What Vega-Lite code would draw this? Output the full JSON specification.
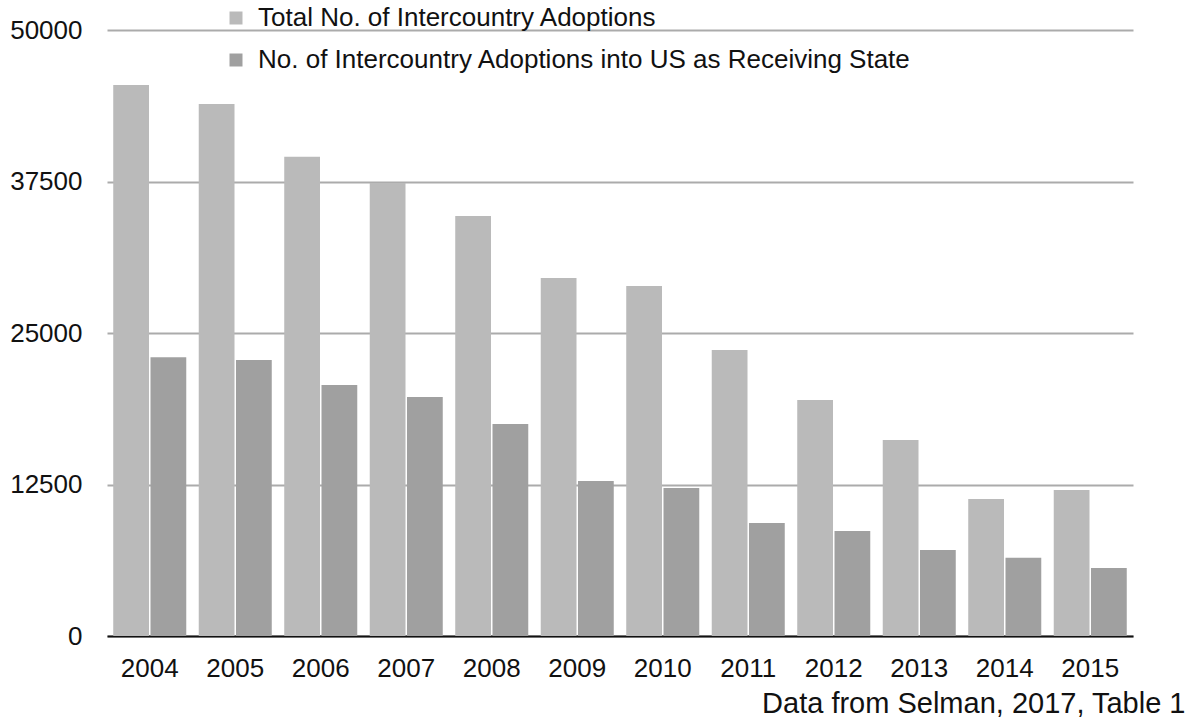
{
  "$schema": "https://vega.github.io/schema/vega-lite/v6.json",
  "width": 1026,
  "height": 606,
  "autosize": {"type": "none"},
  "padding": {"left": 107, "top": 30, "right": 63, "bottom": 88},
  "background": "white",
  "config": {
    "font": "Liberation Sans",
    "view": {"stroke": null}
  },
  "data": {
    "values": [
      {"year": "2004", "series": "Total No. of Intercountry Adoptions", "value": 45460},
      {"year": "2004", "series": "No. of Intercountry Adoptions into US as Receiving State", "value": 23000},
      {"year": "2005", "series": "Total No. of Intercountry Adoptions", "value": 43890},
      {"year": "2005", "series": "No. of Intercountry Adoptions into US as Receiving State", "value": 22770},
      {"year": "2006", "series": "Total No. of Intercountry Adoptions", "value": 39550},
      {"year": "2006", "series": "No. of Intercountry Adoptions into US as Receiving State", "value": 20710},
      {"year": "2007", "series": "Total No. of Intercountry Adoptions", "value": 37380},
      {"year": "2007", "series": "No. of Intercountry Adoptions into US as Receiving State", "value": 19720},
      {"year": "2008", "series": "Total No. of Intercountry Adoptions", "value": 34650},
      {"year": "2008", "series": "No. of Intercountry Adoptions into US as Receiving State", "value": 17490},
      {"year": "2009", "series": "Total No. of Intercountry Adoptions", "value": 29540},
      {"year": "2009", "series": "No. of Intercountry Adoptions into US as Receiving State", "value": 12790},
      {"year": "2010", "series": "Total No. of Intercountry Adoptions", "value": 28880},
      {"year": "2010", "series": "No. of Intercountry Adoptions into US as Receiving State", "value": 12210},
      {"year": "2011", "series": "Total No. of Intercountry Adoptions", "value": 23600},
      {"year": "2011", "series": "No. of Intercountry Adoptions into US as Receiving State", "value": 9320},
      {"year": "2012", "series": "Total No. of Intercountry Adoptions", "value": 19470},
      {"year": "2012", "series": "No. of Intercountry Adoptions into US as Receiving State", "value": 8660},
      {"year": "2013", "series": "Total No. of Intercountry Adoptions", "value": 16170},
      {"year": "2013", "series": "No. of Intercountry Adoptions into US as Receiving State", "value": 7100},
      {"year": "2014", "series": "Total No. of Intercountry Adoptions", "value": 11300},
      {"year": "2014", "series": "No. of Intercountry Adoptions into US as Receiving State", "value": 6460},
      {"year": "2015", "series": "Total No. of Intercountry Adoptions", "value": 12050},
      {"year": "2015", "series": "No. of Intercountry Adoptions into US as Receiving State", "value": 5610}
    ]
  },
  "mark": {"type": "bar"},
  "encoding": {
    "x": {
      "field": "year",
      "type": "nominal",
      "scale": {"paddingInner": 0.146, "paddingOuter": 0.073},
      "axis": {
        "labelAngle": 0,
        "labelFontSize": 26,
        "labelColor": "#111111",
        "labelPadding": 19,
        "ticks": false,
        "domain": true,
        "domainColor": "#111111",
        "domainWidth": 2,
        "grid": false,
        "title": "Data from Selman, 2017, Table 1",
        "titleFontSize": 29,
        "titleFontWeight": "normal",
        "titleColor": "#111111",
        "titleAnchor": "end",
        "titleAlign": "right",
        "titleBaseline": "alphabetic",
        "titleX": 1078,
        "titleY": 76
      }
    },
    "xOffset": {
      "field": "series",
      "type": "nominal",
      "sort": ["Total No. of Intercountry Adoptions", "No. of Intercountry Adoptions into US as Receiving State"],
      "scale": {"paddingInner": 0.04}
    },
    "y": {
      "field": "value",
      "type": "quantitative",
      "scale": {"domain": [0, 50000], "nice": false},
      "axis": {
        "values": [0, 12500, 25000, 37500, 50000],
        "format": "d",
        "labelFontSize": 26,
        "labelColor": "#111111",
        "labelPadding": 25,
        "ticks": false,
        "domain": false,
        "grid": true,
        "gridColor": "#ababab",
        "gridWidth": 2,
        "title": null
      }
    },
    "color": {
      "field": "series",
      "type": "nominal",
      "sort": ["Total No. of Intercountry Adoptions", "No. of Intercountry Adoptions into US as Receiving State"],
      "scale": {
        "domain": ["Total No. of Intercountry Adoptions", "No. of Intercountry Adoptions into US as Receiving State"],
        "range": ["#bababa", "#a0a0a0"]
      },
      "legend": {
        "orient": "none",
        "legendX": 116,
        "legendY": -25,
        "title": null,
        "padding": 0,
        "symbolType": "square",
        "symbolSize": 169,
        "symbolStrokeWidth": 0,
        "symbolOpacity": 1,
        "labelFontSize": 26,
        "labelColor": "#111111",
        "labelOffset": 9,
        "rowPadding": 16,
        "labelLimit": 1000
      }
    }
  }
}
